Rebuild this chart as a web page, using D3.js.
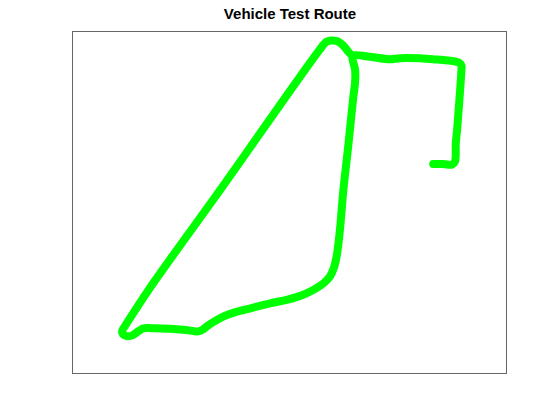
<!DOCTYPE html>
<html>
<head>
<meta charset="utf-8">
<script src="https://cdn.jsdelivr.net/npm/d3@7"></script>
<style>
  html, body { margin: 0; padding: 0; background: #ffffff; }
  svg { display: block; }
</style>
</head>
<body>
<svg id="chart" width="559" height="419"></svg>
<script>
// Route coordinates (normalized units)
const routeX = [83.0, 85.3, 87.3, 88.0, 88.2, 88.5, 88.8, 89.2, 89.5, 89.5, 88.9, 82.9, 75.3, 73.0, 68.0, 64.6,
  64.4, 65.0, 65.0, 64.6, 63.4, 62.3, 61.5, 60.8, 60.1, 59.2, 57.8, 56.2, 53.8, 51.5, 49.2, 45.4, 39.2, 36.9,
  34.6, 32.3, 30.8, 30.0, 28.9, 25.4, 18.5, 16.2, 15.0, 13.8, 12.4, 11.4, 11.4, 11.9, 17.4, 33.9, 57.7, 58.5,
  59.6, 60.8, 61.9, 62.7, 63.4, 64.3];
const routeY = [61.3, 61.3, 61.1, 62.0, 67.3, 71.2, 76.2, 82.9, 88.8, 90.1, 90.9, 91.9, 92.2, 91.9, 92.7, 93.0,
  92.1, 88.8, 85.2, 81.0, 66.3, 53.7, 42.0, 34.7, 30.9, 28.4, 26.5, 25.1, 23.5, 22.4, 21.6, 20.6, 18.6, 17.8,
  16.7, 15.1, 13.8, 13.0, 12.4, 12.9, 13.3, 13.3, 12.4, 11.3, 11.0, 11.8, 12.8, 13.8, 24.5, 53.7, 96.1, 97.1,
  97.4, 97.2, 96.3, 95.3, 94.1, 93.0];
const xDomain = [0, 100];
const yDomain = [0, 100];
const titleText = "Vehicle Test Route";

(function () {
  const svg = d3.select("#chart");
  const mLeft = 73, mRight = 507, mTop = 31.5, mBottom = 373.8;

  const x = d3.scaleLinear().domain(xDomain).range([mLeft, mRight]);
  const y = d3.scaleLinear().domain(yDomain).range([mBottom, mTop]);

  // axes box
  svg.append("rect")
    .attr("x", 72.5).attr("y", 31.5)
    .attr("width", 434).attr("height", 342)
    .attr("fill", "#ffffff")
    .attr("stroke", "#666666")
    .attr("stroke-width", 1);

  const pts = routeX.map((d, i) => [d, routeY[i]]);
  const line = d3.line()
    .x(d => x(d[0]))
    .y(d => y(d[1]))
    .curve(d3.curveCatmullRom.alpha(0.5));

  svg.append("path")
    .datum(pts)
    .attr("d", line)
    .attr("fill", "none")
    .attr("stroke", "#00ff00")
    .attr("stroke-width", 8)
    .attr("stroke-linejoin", "round")
    .attr("stroke-linecap", "round");

  svg.append("text")
    .attr("x", (mLeft + mRight) / 2)
    .attr("y", 18.5)
    .attr("text-anchor", "middle")
    .attr("font-family", "Liberation Sans, Arial, Helvetica, sans-serif")
    .attr("font-weight", "bold")
    .attr("font-size", 15)
    .attr("fill", "#000000")
    .text(titleText);
})();
</script>
</body>
</html>
